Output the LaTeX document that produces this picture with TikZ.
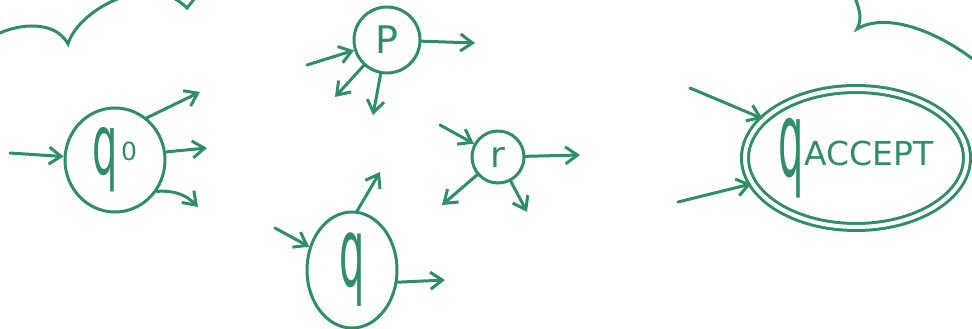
\documentclass[tikz,border=0pt]{standalone}
\usepackage{fontspec}
\setmainfont{DejaVu Sans}
\usepackage{tikz}
\usetikzlibrary{arrows.meta,shapes.geometric}
\definecolor{penGreen}{HTML}{2E8E68}
\newcommand{\tallq}[1]{\scalebox{1}[#1]{q}}

\begin{document}
\begin{tikzpicture}[
  x=1pt,y=-1pt,
  line width=3pt,
  state/.style={draw=penGreen,ellipse,inner sep=0pt,text=penGreen},
  arr/.style={draw=penGreen,-{Straight Barb[length=12pt,width=17pt]},line cap=round},
  cloudline/.style={draw=penGreen,line cap=round}
]
\useasboundingbox (0,0) rectangle (972,329);
% clouds at the top
\draw[cloudline] (0,33) .. controls (20,24) and (55,20) .. (68,44)
  .. controls (78,10) and (150,-30) .. (187,8) -- (195,-2);
\draw[cloudline] (855,-2) .. controls (860,10) and (862,20) .. (857,29)
  .. controls (885,12) and (935,30) .. (974,60);
% states
\node[state,minimum width=100pt,minimum height=104pt] (q0) at (115,160)
  {\fontsize{40}{40}\selectfont\tallq{2.1}\hspace{3pt}\raisebox{14pt}{\fontsize{25}{25}\selectfont 0}};
\node[state,minimum size=66pt] (P) at (387,40) {\fontsize{38}{38}\selectfont P};
\node[state,minimum size=52pt] (r) at (498,157) {\fontsize{36}{36}\selectfont r};
\node[state,minimum width=90pt,minimum height=116pt] (q) at (352,270)
  {\fontsize{40}{40}\selectfont\tallq{2.4}};
\node[state,double,double distance=4pt,minimum width=222pt,minimum height=138pt] (qacc) at (856,158)
  {\fontsize{40}{40}\selectfont\tallq{2.6}\raisebox{11pt}{\fontsize{33}{33}\selectfont ACCEPT}};
% loose ends of the transitions
\coordinate (q0in) at (10,153);
\coordinate (q0out1) at (200,92);
\coordinate (q0out2) at (207,148);
\coordinate (q0out3) at (198,207);
\coordinate (Pin) at (307,65);
\coordinate (Pout1) at (475,43);
\coordinate (Pout2) at (335,97);
\coordinate (Pout3) at (373,115);
\coordinate (rin) at (440,125);
\coordinate (rout1) at (580,155);
\coordinate (rout2) at (442,205);
\coordinate (rout3) at (527,212);
\coordinate (qin) at (275,228);
\coordinate (qout1) at (380,172);
\coordinate (qout2) at (445,280);
\coordinate (accin1) at (690,88);
\coordinate (accin2) at (678,202);
% transitions
\draw[arr] (q0in) -- (q0);
\draw[arr] (q0.53) -- (q0out1);
\draw[arr] (q0.9) -- (q0out2);
\draw[arr] (q0.-37) to[bend left=25] (q0out3);
\draw[arr] (Pin) -- (P);
\draw[arr] (P) -- (Pout1);
\draw[arr] (P) -- (Pout2);
\draw[arr] (P) -- (Pout3);
\draw[arr] (rin) -- (r);
\draw[arr] (r) -- (rout1);
\draw[arr] (r) -- (rout2);
\draw[arr] (r) -- (rout3);
\draw[arr] (qin) -- (q);
\draw[arr] (q.85) -- (qout1);
\draw[arr] (q.-15) -- (qout2);
\draw[arr] (accin1) -- (qacc);
\draw[arr] (accin2) -- (qacc);
\end{tikzpicture}
\end{document}
